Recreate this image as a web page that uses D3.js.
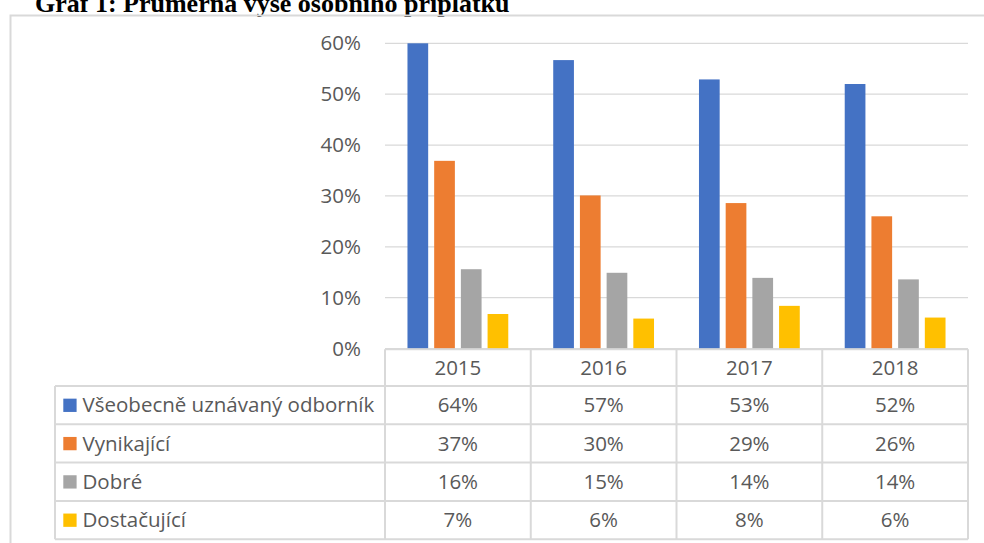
<!DOCTYPE html>
<html>
<head>
<meta charset="utf-8">
<script src="https://cdn.jsdelivr.net/npm/d3@7"></script>
<style>
  body { margin: 0; background: #fff; }
  svg text { font-family: "Open Sans", "Noto Sans", sans-serif; fill: #595959; }
</style>
</head>
<body>
<script>
// data (percent)
let years = ['2015', '2016', '2017', '2018'];
let seriesNames = ['Všeobecně uznávaný odborník', 'Vynikající', 'Dobré', 'Dostačující'];
let colors = ['#4472c4', '#ed7d31', '#a5a5a5', '#ffc000'];
let odbornik = [64, 56.7, 52.9, 52.0];
let vynikajici = [36.9, 30.1, 28.6, 26.0];
let dobre = [15.6, 14.9, 13.9, 13.6];
let dostacujici = [6.8, 5.9, 8.4, 6.1];
let yTicks = [0, 10, 20, 30, 40, 50, 60];

let series = [odbornik, vynikajici, dobre, dostacujici];

let w = 984;
let h = 543;
let fs = '20.5px';
let svg = d3.select('body').append('svg')
  .attr('width', w)
  .attr('height', h);

// title, cut off at the top like the source
svg.append('text')
  .attr('x', 35)
  .attr('y', 12)
  .style('font-family', '"Liberation Serif", "Times New Roman", serif')
  .style('font-weight', 'bold')
  .style('font-size', '26px')
  .style('fill', '#000')
  .text('Graf 1: Průměrná výše osobního příplatku');

// chart frame (only top & left visible)
svg.append('path')
  .attr('d', 'M10.5,' + h + 'V15.5H' + w)
  .attr('fill', 'none')
  .attr('stroke', '#d9d9d9')
  .attr('stroke-width', 2);

let plotL = 385, plotR = 968, plotT = 43.3, plotB = 348.6;

let x = d3.scaleBand()
  .domain(years)
  .range([plotL, plotR]);

let y = d3.scaleLinear()
  .domain([0, 60])
  .range([plotB, plotT])
  .clamp(true);

// gridlines
svg.selectAll('.grid')
  .data(yTicks)
  .enter()
    .append('line')
    .attr('x1', plotL)
    .attr('x2', plotR)
    .attr('y1', d => y(d))
    .attr('y2', d => y(d))
    .attr('stroke', '#d9d9d9')
    .attr('stroke-width', 1.3);

// y labels
svg.selectAll('.ylab')
  .data(yTicks)
  .enter()
    .append('text')
    .attr('x', 361)
    .attr('y', d => y(d))
    .attr('dy', '0.35em')
    .attr('text-anchor', 'end')
    .style('font-size', fs)
    .text(d => d + '%');

// bars
let step = 26.7, barW = 20.7;

series.forEach((vals, si) => {
  svg.selectAll('.bar' + si)
    .data(vals)
    .enter()
      .append('rect')
      .attr('x', (d, i) => x(years[i]) + x.bandwidth() / 2 - step * 2 + (step - barW) / 2 + si * step)
      .attr('y', d => y(d))
      .attr('width', barW)
      .attr('height', d => plotB - y(d))
      .attr('fill', colors[si]);
});

// data table
let headH = 36.7, rowH = 38.3;
let tableTop = plotB + 0.7;
let legendLeft = 55;
let fmt = d3.format('.0f');
let grid = svg.append('g')
  .attr('stroke', '#d9d9d9')
  .attr('stroke-width', 2)
  .attr('fill', 'none');

// header cells
grid.append('line').attr('x1', plotL).attr('x2', plotR).attr('y1', tableTop).attr('y2', tableTop);
years.forEach(yr => {
  svg.append('text')
    .attr('x', x(yr) + x.bandwidth() / 2)
    .attr('y', tableTop + headH / 2)
    .attr('dy', '0.35em')
    .attr('text-anchor', 'middle')
    .style('font-size', fs)
    .text(yr);
});

// horizontal lines under header and rows
d3.range(seriesNames.length + 1).forEach(r => {
  let yy = tableTop + headH + r * rowH;
  grid.append('line').attr('x1', legendLeft).attr('x2', plotR).attr('y1', yy).attr('y2', yy);
});
let tableBottom = tableTop + headH + seriesNames.length * rowH;

// vertical lines
grid.append('line').attr('x1', legendLeft).attr('x2', legendLeft)
  .attr('y1', tableTop + headH).attr('y2', tableBottom);
years.concat(['end']).forEach((yr, i) => {
  let xx = i < years.length ? x(yr) : plotR;
  grid.append('line').attr('x1', xx).attr('x2', xx)
    .attr('y1', tableTop).attr('y2', tableBottom);
});

// rows: legend key + values
seriesNames.forEach((name, si) => {
  let cy = tableTop + headH + si * rowH + rowH / 2;
  svg.append('rect')
    .attr('x', 63.3)
    .attr('y', cy - 6.5)
    .attr('width', 13.3)
    .attr('height', 13.3)
    .attr('fill', colors[si]);
  svg.append('text')
    .attr('x', 82.5)
    .attr('y', cy)
    .attr('dy', '0.35em')
    .style('font-size', fs)
    .text(name);
  series[si].forEach((v, i) => {
    svg.append('text')
      .attr('x', x(years[i]) + x.bandwidth() / 2)
      .attr('y', cy)
      .attr('dy', '0.35em')
      .attr('text-anchor', 'middle')
      .style('font-size', fs)
      .text(fmt(v) + '%');
  });
});
</script>
</body>
</html>
